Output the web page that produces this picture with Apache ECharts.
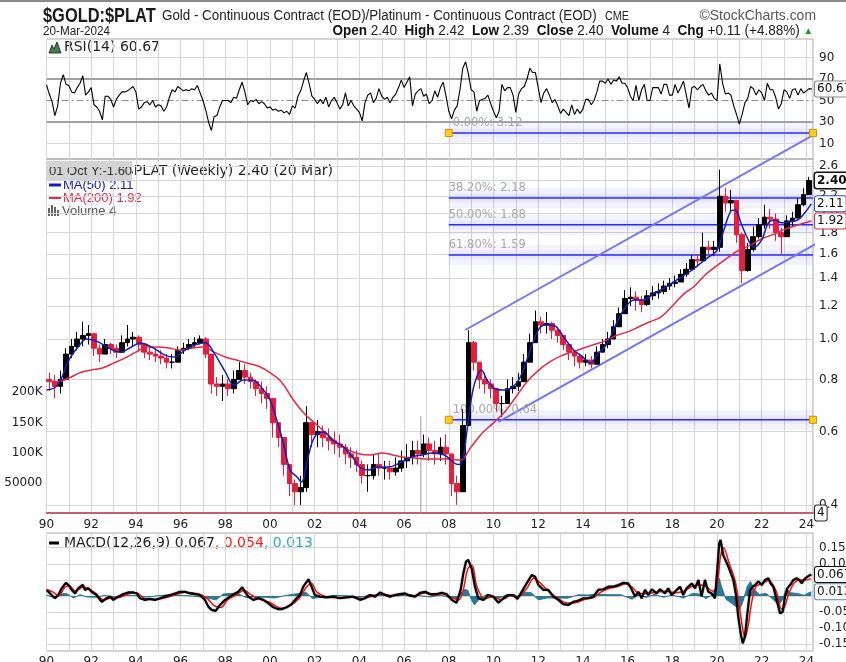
<!DOCTYPE html>
<html><head><meta charset="utf-8">
<script src="https://cdn.jsdelivr.net/npm/echarts@6/dist/echarts.min.js"></script>
<style>html,body{margin:0;padding:0;background:#fff}#c{width:846px;height:662px}</style>
</head><body><div id="c"></div>
<script>
// ---------------- DATA ----------------
// Weekly $GOLD:$PLAT summarised as quarterly bars (centre of quarter)
const priceStart = 1990.125, priceStep = 0.25, firstOpen = 0.80;
const priceClose = [
 0.79,0.77,0.80,0.92, 0.96,1.00,1.02,1.03, 0.95,0.92,0.97,0.95, 0.93,0.98,1.00,1.01,
 0.97,0.93,0.92,0.91, 0.90,0.88,0.88,0.94, 0.95,0.97,0.98,1.00, 0.92,0.78,0.77,0.78,
 0.76,0.80,0.84,0.81, 0.79,0.76,0.74,0.72, 0.63,0.58,0.50,0.45, 0.43,0.44,0.63,0.59,
 0.60,0.58,0.57,0.56, 0.55,0.53,0.52,0.50, 0.47,0.47,0.50,0.49, 0.49,0.48,0.49,0.51,
 0.52,0.54,0.53,0.56, 0.54,0.53,0.55,0.53, 0.45,0.43,0.62,0.98, 0.88,0.80,0.78,0.76,
 0.70,0.70,0.76,0.77, 0.79,0.88,0.98,1.10, 1.08,1.09,1.05,1.02, 0.97,0.93,0.91,0.88,
 0.89,0.87,0.93,0.97, 1.00,1.07,1.15,1.25, 1.26,1.24,1.21,1.27, 1.29,1.30,1.34,1.36,
 1.37,1.43,1.47,1.55, 1.54,1.66,1.64,1.66, 2.20,2.12,2.15,1.78, 1.46,1.64,1.76,1.88,
 1.96,1.94,1.80,1.76, 1.92,1.95,2.10,2.22, 2.40];
const priceLow = [
 0.75,0.72,0.74,0.80, 0.90,0.94,0.96,0.97, 0.91,0.88,0.92,0.92, 0.90,0.93,0.96,0.96,
 0.94,0.90,0.89,0.88, 0.87,0.85,0.85,0.89, 0.92,0.94,0.95,0.97, 0.90,0.74,0.73,0.71,
 0.73,0.74,0.80,0.78, 0.76,0.73,0.70,0.68, 0.58,0.55,0.47,0.42, 0.40,0.40,0.43,0.55,
 0.55,0.55,0.54,0.53, 0.52,0.50,0.49,0.48, 0.45,0.43,0.46,0.47, 0.46,0.46,0.47,0.48,
 0.49,0.50,0.50,0.52, 0.51,0.50,0.51,0.50, 0.42,0.40,0.44,0.66, 0.84,0.76,0.74,0.72,
 0.67,0.65,0.72,0.74, 0.75,0.80,0.90,1.02, 1.03,1.03,1.00,0.98, 0.94,0.89,0.86,0.85,
 0.86,0.85,0.87,0.93, 0.95,1.02,1.09,1.18, 1.20,1.17,1.16,1.20, 1.24,1.25,1.28,1.31,
 1.33,1.37,1.41,1.49, 1.49,1.55,1.58,1.58, 1.62,2.02,2.02,1.70, 1.36,1.45,1.62,1.74,
 1.84,1.84,1.72,1.60, 1.78,1.86,1.95,2.08, 2.22];
const priceHigh = [
 0.83,0.82,0.84,0.95, 1.00,1.04,1.10,1.08, 1.02,0.97,1.00,0.98, 0.97,1.02,1.08,1.04,
 1.02,0.97,0.96,0.95, 0.94,0.92,0.92,0.96, 0.98,1.00,1.01,1.02, 1.01,0.90,0.81,0.82,
 0.80,0.84,0.88,0.87, 0.83,0.80,0.79,0.77, 0.70,0.63,0.57,0.50, 0.46,0.47,0.69,0.63,
 0.64,0.62,0.61,0.60, 0.59,0.56,0.55,0.54, 0.51,0.50,0.53,0.53, 0.51,0.51,0.52,0.54,
 0.56,0.57,0.57,0.59, 0.58,0.57,0.58,0.59, 0.52,0.47,0.68,1.05, 0.99,0.87,0.83,0.80,
 0.76,0.73,0.80,0.81, 0.83,0.92,1.03,1.17, 1.13,1.16,1.10,1.07, 1.02,0.97,0.94,0.92,
 0.92,0.91,0.96,1.00, 1.04,1.11,1.19,1.31, 1.33,1.30,1.27,1.31, 1.34,1.36,1.38,1.40,
 1.42,1.47,1.52,1.59, 1.60,1.80,1.72,1.72, 2.55,2.30,2.28,2.05, 1.80,1.70,1.86,1.95,
 2.10,2.05,2.00,1.85, 1.98,2.02,2.18,2.30, 2.45];

const ma50 = [[1990.0,0.754],[1990.5,0.775],[1991.0,0.89],[1991.5,0.97],[1991.8,1.0],[1992.3,0.985],[1992.8,0.95],
 [1993.3,0.93],[1993.8,0.957],[1994.2,0.978],[1994.7,0.957],[1995.3,0.915],[1995.7,0.905],[1996.2,0.94],[1996.7,0.97],
 [1997.1,0.98],[1997.5,0.925],[1998.0,0.834],[1998.4,0.775],[1998.8,0.797],[1999.2,0.797],[1999.6,0.767],[2000.0,0.714],
 [2000.3,0.639],[2000.6,0.563],[2000.9,0.485],[2001.2,0.467],[2001.4,0.454],[2001.7,0.52],[2002.0,0.582],[2002.4,0.598],
 [2002.8,0.572],[2003.3,0.551],[2003.7,0.52],[2004.0,0.493],[2004.4,0.485],[2004.8,0.493],[2005.3,0.493],[2005.8,0.504],
 [2006.3,0.52],[2006.8,0.527],[2007.3,0.533],[2007.8,0.527],[2008.1,0.512],[2008.4,0.50],[2008.6,0.505],[2008.8,0.595],
 [2009.0,0.714],[2009.2,0.797],[2009.45,0.843],[2009.7,0.80],[2010.0,0.763],[2010.4,0.754],[2010.8,0.763],[2011.2,0.81],
 [2011.6,0.925],[2012.0,1.05],[2012.3,1.08],[2012.5,1.08],[2012.8,1.07],[2013.2,1.0],[2013.6,0.94],[2014.0,0.905],
 [2014.3,0.875],[2014.7,0.925],[2015.1,0.978],[2015.5,1.09],[2015.9,1.19],[2016.3,1.24],[2016.7,1.24],[2017.2,1.29],
 [2017.7,1.33],[2018.2,1.386],[2018.7,1.44],[2019.2,1.51],[2019.6,1.57],[2020.0,1.63],[2020.3,1.82],[2020.6,2.02],
 [2020.8,2.04],[2021.1,1.88],[2021.4,1.73],[2021.65,1.66],[2022.0,1.73],[2022.3,1.90],[2022.6,1.93],[2022.9,1.90],
 [2023.2,1.91],[2023.6,1.93],[2023.9,2.0],[2024.22,2.11]];
const ma200 = [[1990.0,0.797],[1990.5,0.79],[1991.0,0.806],[1991.5,0.83],[1992.0,0.843],[1992.5,0.852],[1993.0,0.875],
 [1993.5,0.9],[1994.0,0.93],[1994.5,0.957],[1995.0,0.957],[1995.5,0.951],[1996.0,0.94],[1996.5,0.951],[1997.0,0.957],
 [1997.5,0.93],[1998.0,0.905],[1998.5,0.89],[1999.0,0.875],[1999.5,0.86],[2000.0,0.83],[2000.5,0.79],[2001.0,0.72],
 [2001.5,0.665],[2002.0,0.629],[2002.5,0.595],[2003.0,0.563],[2003.5,0.542],[2004.0,0.53],[2004.5,0.527],[2005.0,0.533],
 [2005.5,0.527],[2006.0,0.52],[2006.5,0.518],[2007.0,0.515],[2007.5,0.515],[2008.0,0.515],[2008.5,0.512],[2009.0,0.551],
 [2009.5,0.595],[2010.0,0.629],[2010.5,0.668],[2011.0,0.726],[2011.5,0.79],[2012.0,0.84],[2012.5,0.88],[2013.0,0.91],
 [2013.5,0.93],[2014.0,0.95],[2014.5,0.97],[2015.0,0.99],[2015.5,1.02],[2016.0,1.04],[2016.5,1.07],[2017.0,1.10],
 [2017.5,1.13],[2018.0,1.20],[2018.5,1.28],[2019.0,1.34],[2019.5,1.43],[2020.0,1.50],[2020.5,1.57],[2021.0,1.635],
 [2021.5,1.68],[2022.0,1.74],[2022.5,1.78],[2023.0,1.83],[2023.5,1.87],[2024.22,1.92]];

const volume = [[2006.75, 160000]];

// RSI(14), one reading every 1/8 year from 1990.0
const rsiStart = 1990.0, rsiStep = 0.125;
const rsi = [
 64.6,56,49,36,45,66,74,65,64,58, 57,62,66,73,55,58,62,46,44,40, 32,54,54,51,44,51,55,58,58,59,
 61,63,58,42,44,48,49,46,50,44, 46,45,40,44,53,60,58,63,61,59, 60,59,61,60,64,57,50,41,30,22,
 35,36,44,50,50,50,48,53,52,60, 67,58,46,50,49,51,47,49,47,43, 44,41,42,40,41,38.5,40,37,45,43,
 54,59,68,76,66,54,51,47,51,47, 53,44,50,53,48,42,46,57,45,50, 45,42,39,31,48,55,57,48,52,61,
 54,51,53,48,53,56,62,69,62,67, 72,45,56,59,61,54,56,47,50,59, 53,62,67,54,40,33,41,45,60,80,
 86,75,60,58,40,50,51,52,55,47, 40,34,40,65,59,62,62,55,39,56, 61,63,70,80,76,76,62,48,57,61,
 55,48,51,45,38,42,39,36,46,37, 42,38,42,51,51,46,50,58,68,68, 66,70,65,69,68,72,66,66,62,54,
 50,64,50,60,65,50,50,62,62,62, 56,65,65,55,55,65,57,62,68,55, 43,62,63,60,63,65,59,55,57,52,
 50,84,66,56,57,55,45,37,28,37, 48,52,63,61,55,60,57,50,66,60, 60,53,42,47,60,58,52,60,61,55,
 61,57,59,61,60.67];

// MACD(12,26,9)
const macd = [[1990.01,0.019],[1990.16,0.008],[1990.38,-0.007],[1990.53,0.003],[1990.68,0.024],[1990.87,0.041],
 [1990.98,0.034],[1991.13,0.019],[1991.28,0.008],[1991.42,0.024],[1991.62,0.035],[1991.72,0.019],[1991.87,0.024],
 [1992.02,0.013],[1992.24,0.003],[1992.47,-0.018],[1992.69,-0.007],[1992.84,-0.002],[1992.99,-0.012],[1993.21,-0.002],
 [1993.44,0.006],[1993.66,0.011],[1993.89,0.011],[1994.04,0.008],[1994.18,-0.007],[1994.41,-0.012],[1994.63,-0.009],
 [1994.85,-0.012],[1995.08,-0.007],[1995.3,-0.002],[1995.53,0.003],[1995.75,0.008],[1995.97,0.013],[1996.2,0.013],
 [1996.42,0.008],[1996.64,0.006],[1996.87,0.003],[1997.09,-0.012],[1997.24,-0.033],[1997.39,-0.043],[1997.57,-0.046],
 [1997.76,-0.028],[1997.99,-0.012],[1998.21,-0.002],[1998.43,0.008],[1998.58,0.013],[1998.76,0.027],[1998.88,0.013],
 [1999.03,-0.002],[1999.25,-0.012],[1999.48,-0.007],[1999.7,-0.012],[1999.93,-0.023],[2000.15,-0.035],[2000.37,-0.041],
 [2000.52,-0.041],[2000.75,-0.035],[2000.97,-0.025],[2001.19,-0.007],[2001.34,0.003],[2001.49,0.029],[2001.72,0.052],
 [2001.86,0.029],[2002.01,0.003],[2002.24,-0.002],[2002.53,-0.004],[2002.83,-0.002],[2003.13,-0.007],[2003.43,-0.004],
 [2003.73,-0.002],[2004.03,-0.012],[2004.25,-0.007],[2004.47,0.003],[2004.7,-0.002],[2004.92,0.011],[2005.15,0.003],
 [2005.37,-0.002],[2005.59,0.003],[2005.82,0.006],[2006.04,0.008],[2006.26,0.001],[2006.49,-0.002],[2006.71,0.01],
 [2006.94,0.013],[2007.16,0.006],[2007.46,0.006],[2007.68,0.01],[2007.9,0.006],[2008.13,-0.012],[2008.35,-0.021],
 [2008.53,0.019],[2008.65,0.07],[2008.77,0.107],[2008.87,0.112],[2009.02,0.086],[2009.17,0.029],[2009.32,-0.007],
 [2009.55,-0.012],[2009.77,0.003],[2009.99,-0.002],[2010.22,-0.021],[2010.44,-0.007],[2010.66,0.003],[2010.89,0.003],
 [2011.07,-0.009],[2011.26,0.013],[2011.48,0.039],[2011.71,0.065],[2011.86,0.06],[2012.01,0.034],[2012.23,0.019],
 [2012.45,0.019],[2012.68,-0.002],[2012.9,-0.012],[2013.12,-0.025],[2013.35,-0.028],[2013.57,-0.018],[2013.8,-0.014],
 [2014.02,-0.007],[2014.24,-0.007],[2014.47,-0.002],[2014.69,0.019],[2014.91,0.021],[2015.14,0.029],[2015.36,0.029],
 [2015.59,0.034],[2015.81,0.041],[2016.03,0.039],[2016.18,0.021],[2016.33,-0.002],[2016.48,0.013],[2016.63,-0.007],
 [2016.78,0.019],[2016.93,0.003],[2017.08,0.021],[2017.3,0.008],[2017.45,0.021],[2017.67,0.008],[2017.82,0.024],
 [2017.97,0.003],[2018.2,0.019],[2018.35,0.029],[2018.49,0.003],[2018.64,0.024],[2018.87,0.039],[2019.02,0.024],
 [2019.17,0.05],[2019.31,-0.002],[2019.46,0.05],[2019.61,0.013],[2019.76,0.008],[2019.91,-0.007],[2020.01,0.081],
 [2020.1,0.164],[2020.16,0.174],[2020.28,0.127],[2020.51,0.091],[2020.73,0.05],[2020.85,0.003],[2020.95,-0.064],
 [2021.06,-0.116],[2021.15,-0.147],[2021.25,-0.126],[2021.36,-0.054],[2021.48,0.019],[2021.6,0.029],[2021.7,0.034],
 [2021.85,0.045],[2022.0,0.034],[2022.15,0.05],[2022.3,0.055],[2022.4,0.039],[2022.52,0.029],[2022.67,-0.012],
 [2022.82,-0.054],[2022.94,-0.049],[2023.04,-0.002],[2023.15,0.024],[2023.27,0.034],[2023.42,0.05],[2023.56,0.055],
 [2023.68,0.05],[2023.79,0.039],[2023.94,0.055],[2024.09,0.062],[2024.22,0.067]];
const macdSignal = [[1990.0,0.02],[1990.3,0.012],[1990.55,0.0],[1990.8,0.025],[1991.0,0.033],[1991.3,0.015],[1991.65,0.028],
 [1991.9,0.022],[1992.2,0.008],[1992.55,-0.012],[1992.9,-0.006],[1993.3,-0.004],[1993.7,0.008],[1994.0,0.01],[1994.4,-0.008],
 [1994.9,-0.011],[1995.4,-0.004],[1995.8,0.005],[1996.2,0.012],[1996.8,0.006],[1997.2,-0.008],[1997.5,-0.03],[1997.8,-0.036],
 [1998.1,-0.012],[1998.5,0.004],[1998.85,0.018],[1999.1,0.006],[1999.5,-0.008],[2000.0,-0.02],[2000.5,-0.038],[2000.9,-0.03],
 [2001.3,-0.008],[2001.6,0.025],[2001.85,0.04],[2002.1,0.012],[2002.5,-0.002],[2003.0,-0.005],[2003.6,-0.003],[2004.1,-0.008],
 [2004.5,-0.002],[2005.0,0.006],[2005.5,0.001],[2006.0,0.006],[2006.5,0.0],[2006.9,0.01],[2007.3,0.002],[2007.7,0.007],
 [2008.1,-0.005],[2008.45,-0.012],[2008.65,0.02],[2008.85,0.085],[2009.05,0.095],[2009.25,0.03],[2009.6,-0.008],[2010.0,-0.002],
 [2010.35,-0.012],[2010.8,0.002],[2011.1,-0.002],[2011.5,0.025],[2011.8,0.055],[2012.1,0.04],[2012.5,0.012],[2012.9,-0.008],
 [2013.3,-0.022],[2013.7,-0.02],[2014.1,-0.01],[2014.5,-0.004],[2014.8,0.012],[2015.2,0.024],[2015.6,0.03],[2015.9,0.038],
 [2016.2,0.028],[2016.5,0.008],[2016.9,0.008],[2017.3,0.012],[2017.7,0.015],[2018.1,0.01],[2018.5,0.015],[2018.9,0.03],
 [2019.2,0.035],[2019.5,0.03],[2019.8,0.015],[2020.0,0.03],[2020.15,0.12],[2020.3,0.15],[2020.55,0.10],[2020.8,0.05],
 [2020.98,-0.02],[2021.12,-0.09],[2021.25,-0.13],[2021.4,-0.09],[2021.55,-0.02],[2021.75,0.03],[2022.0,0.038],[2022.3,0.048],
 [2022.5,0.035],[2022.7,0.005],[2022.88,-0.04],[2023.02,-0.035],[2023.2,0.005],[2023.45,0.04],[2023.7,0.05],[2023.95,0.05],
 [2024.22,0.054]];
const macdHist = [[1990.0,0.003],[1990.3,-0.004],[1990.6,0.006],[1990.9,0.008],[1991.2,-0.006],[1991.5,0.004],[1991.8,-0.003],
 [1992.2,-0.004],[1992.6,0.002],[1993.0,-0.003],[1993.5,0.003],[1994.0,0.001],[1994.5,-0.003],[1995.0,0.001],[1995.5,0.004],
 [1996.0,0.002],[1996.5,0.0],[1997.0,-0.004],[1997.3,-0.008],[1997.6,-0.012],[1997.9,0.006],[1998.2,0.008],[1998.6,0.006],
 [1998.9,-0.004],[1999.3,-0.003],[1999.8,-0.004],[2000.2,-0.006],[2000.6,0.0],[2000.9,0.004],[2001.3,0.008],[2001.6,0.012],
 [2001.9,-0.008],[2002.3,-0.003],[2003.0,0.002],[2003.6,0.0],[2004.0,-0.004],[2004.5,0.003],[2005.0,0.003],[2005.6,0.0],
 [2006.2,0.003],[2006.7,0.001],[2007.2,-0.003],[2007.6,0.003],[2008.1,-0.006],[2008.4,-0.008],[2008.55,0.01],[2008.7,0.02],
 [2008.85,0.018],[2009.0,-0.01],[2009.15,-0.028],[2009.35,-0.01],[2009.7,0.005],[2010.2,-0.008],[2010.6,0.004],[2011.0,-0.004],
 [2011.4,0.012],[2011.7,0.01],[2012.0,-0.012],[2012.4,-0.006],[2012.9,-0.006],[2013.3,-0.007],[2013.8,0.004],[2014.2,0.003],
 [2014.7,0.006],[2015.2,0.004],[2015.7,0.004],[2016.2,-0.01],[2016.5,0.006],[2016.8,-0.005],[2017.2,0.005],[2017.6,-0.004],
 [2018.0,0.003],[2018.5,-0.006],[2018.9,0.008],[2019.2,0.006],[2019.5,-0.008],[2019.8,0.004],[2020.0,0.03],[2020.1,0.055],
 [2020.2,0.03],[2020.4,-0.01],[2020.6,-0.02],[2020.8,-0.03],[2021.0,-0.043],[2021.15,-0.02],[2021.35,0.03],[2021.5,0.045],
 [2021.65,0.02],[2021.9,0.005],[2022.2,0.008],[2022.5,-0.01],[2022.75,-0.028],[2022.95,-0.01],[2023.1,0.024],[2023.3,0.01],
 [2023.6,0.008],[2023.9,0.002],[2024.1,0.01],[2024.22,0.013]];

// Fibonacci retracement and trend channel annotations
const fibNames  = ['0.00%', '38.20%', '50.00%', '61.80%', '100.00%'];
const fibLevels = [3.12, 2.18, 1.88, 1.59, 0.64];
const fibMarked = [true, false, false, false, true];
const fibStart = 2008.0, fibEnd = 2024.295;
const channelUpper = [[2008.73, 1.051], [2026.0, 3.47]];
const channelLower = [[2010.22, 0.633], [2026.0, 1.887]];

// Axis ticks
const priceTicks = [0.4,0.6,0.8,1.0,1.2,1.4,1.6,1.8,2.0,2.2,2.4,2.6];
const rsiTicks = [10,30,50,70,90];
const volTicks = [50000,100000,150000,200000];
const macdTicks = [-0.15,-0.10,-0.05,0,0.05,0.10,0.15];

// Last values for tags
const last = {price:2.40, ma50:2.11, ma200:1.92, vol:4, rsi:60.67, macd:0.067, signal:0.054, hist:0.013};

// ---------------- CHART ----------------
const FONT = '"DejaVu Sans", Verdana, sans-serif';
const ARIAL = '"Liberation Sans", Arial, sans-serif';
const X0 = 1990, X1 = 2024.295;
const GL = 46.5, GR = 33;

const candles = priceClose.map((c, i) => [priceStart + i * priceStep, i ? priceClose[i - 1] : firstOpen, c, priceLow[i], priceHigh[i]]);
const rsiData = rsi.map((v, i) => [rsiStart + i * rsiStep, v]);
const rsiBase = rsi.map((v, i) => [rsiStart + i * rsiStep, 70]);
const rsiOver = rsi.map((v, i) => [rsiStart + i * rsiStep, Math.max(0, v - 70)]);

function xAxisFor(gi, showLabels, margin) {
  return {
    type: 'value', gridIndex: gi, min: X0, max: X1, interval: 1,
    axisLine: {show: gi === 1, onZero: false, lineStyle: {color: '#c2606e', width: 2}},
    axisTick: {show: false},
    axisLabel: {show: showLabels, margin: margin || 6, color: '#222', fontFamily: FONT, fontSize: 12,
      formatter: v => { const r = Math.round(v); if (Math.abs(v - r) > 1e-6 || r % 2) return ''; return String(r % 100).padStart(2, '0'); }},
    splitLine: {show: true, lineStyle: {color: '#d6d6d6', width: 1}}
  };
}
function tag(coord, text, border, bold, bw) {
  return {
    coord: coord, symbol: 'rect', symbolSize: 0,
    label: {show: true, position: 'right', distance: 2, formatter: text, backgroundColor: '#fff',
      borderColor: border, borderWidth: bw || 1, borderRadius: 2, padding: [2, 2, 1, 2],
      color: '#111', fontFamily: FONT, fontSize: 12, fontWeight: bold ? 'bold' : 'normal'}
  };
}
const hline = (v, color, width, type) => ({yAxis: v, lineStyle: {color: color, width: width, type: type || 'solid'}});

const series = [];
// RSI panel
series.push({type: 'line', xAxisIndex: 0, yAxisIndex: 0, data: rsiBase, stack: 'ob', symbol: 'none', silent: true,
  lineStyle: {opacity: 0}, z: 1, animation: false});
series.push({type: 'line', xAxisIndex: 0, yAxisIndex: 0, data: rsiOver, stack: 'ob', symbol: 'none', silent: true,
  lineStyle: {opacity: 0}, areaStyle: {color: '#3f7f4a', opacity: 0.9}, z: 1, animation: false});
series.push({type: 'line', xAxisIndex: 0, yAxisIndex: 0, data: rsiData, symbol: 'none', silent: true,
  lineStyle: {color: '#000', width: 1.1}, z: 3, animation: false,
  markLine: {silent: true, symbol: ['none', 'none'], label: {show: false}, z: 1, animation: false,
    data: [hline(10, '#d6d6d6', 1), hline(90, '#d6d6d6', 1), hline(30, '#a2a2a2', 2), hline(70, '#a2a2a2', 2),
           hline(50, '#8c8c8c', 1, [7, 3, 2, 3])]},
  markPoint: {z: 10, animation: false, data: [tag([X1, last.rsi], last.rsi.toFixed(2), '#888')]}});

// Price panel
series.push({type: 'line', xAxisIndex: 1, yAxisIndex: 1, data: ma200, symbol: 'none', smooth: 0.4, silent: true,
  lineStyle: {color: '#e02a46', width: 1.5}, z: 5, animation: false,
  markLine: {silent: true, symbol: ['none', 'none'], label: {show: false}, z: 1, animation: false,
    data: priceTicks.map(v => hline(v, '#d6d6d6', 1))},
  markPoint: {z: 11, animation: false, data: [tag([X1, last.ma200], last.ma200.toFixed(2), '#e02a46')]}});
fibLevels.forEach((lv, i) => {
  series.push({type: 'line', xAxisIndex: 1, yAxisIndex: 1, clip: false, silent: true, symbol: 'none', z: 2, animation: false,
    lineStyle: {color: 'rgba(90,90,255,0.07)', width: 20}, data: [[fibStart, lv], [fibEnd, lv]]});
  series.push({type: 'line', xAxisIndex: 1, yAxisIndex: 1, clip: false, silent: true, symbol: 'none', z: 2, animation: false,
    lineStyle: {color: 'rgba(90,90,255,0.06)', width: 9}, data: [[fibStart, lv], [fibEnd, lv]]});
  series.push({type: 'line', xAxisIndex: 1, yAxisIndex: 1, clip: false, silent: true, z: 3, animation: false,
    symbol: fibMarked[i] ? 'rect' : 'circle', symbolSize: fibMarked[i] ? 7 : 0,
    itemStyle: {color: '#ffd21a', borderColor: '#e08a00', borderWidth: 1},
    lineStyle: {color: '#2a2aff', width: 1.6},
    data: [{value: [fibStart, lv], label: {show: true, position: 'right', distance: 2, offset: [-2, -10],
              formatter: fibNames[i] + ': ' + lv.toFixed(2), color: '#a8a8a8', fontFamily: FONT, fontSize: 11.5}},
           {value: [fibEnd, lv]}]});
});
[channelUpper, channelLower].forEach(ch => series.push({type: 'line', xAxisIndex: 1, yAxisIndex: 1, clip: false, silent: true,
  symbol: 'none', z: 3, animation: false, lineStyle: {color: '#7474f4', width: 2}, data: ch}));
series.push({type: 'bar', xAxisIndex: 1, yAxisIndex: 2, data: volume, barWidth: 1, silent: true, z: 2, animation: false,
  itemStyle: {color: '#9a9a9a'},
  markPoint: {z: 11, animation: false, data: [tag([X1, last.vol], String(last.vol), '#222')]}});
series.push({type: 'candlestick', xAxisIndex: 1, yAxisIndex: 1, data: candles, encode: {x: 0, y: [1, 2, 3, 4]},
  barWidth: 5.2, silent: true, z: 4, animation: false,
  itemStyle: {color: '#000', color0: '#e41e3c', borderColor: '#000', borderColor0: '#e41e3c', borderWidth: 1},
  markPoint: {z: 12, animation: false, data: [tag([X1, last.price], last.price.toFixed(2), '#111', true, 1.5)]}});
series.push({type: 'line', xAxisIndex: 1, yAxisIndex: 1, data: ma50, symbol: 'none', smooth: 0.4, silent: true,
  lineStyle: {color: '#1420b4', width: 1.5}, z: 6, animation: false,
  markPoint: {z: 11, animation: false, data: [tag([X1, last.ma50], last.ma50.toFixed(2), '#3050b0')]}});

// MACD panel
series.push({type: 'line', xAxisIndex: 2, yAxisIndex: 3, data: macdHist, symbol: 'none', silent: true, z: 2, animation: false,
  lineStyle: {color: '#2c7896', width: 1}, areaStyle: {color: '#2c7896', origin: 0, opacity: 1},
  markLine: {silent: true, symbol: ['none', 'none'], label: {show: false}, z: 1, animation: false,
    data: macdTicks.map(v => hline(v, '#d6d6d6', 1))},
  markPoint: {z: 11, animation: false, data: [tag([X1, last.hist], last.hist.toFixed(3), '#5a82b4')]}});
series.push({type: 'line', xAxisIndex: 2, yAxisIndex: 3, data: macdSignal, symbol: 'none', silent: true, z: 3, animation: false,
  smooth: 0.3, lineStyle: {color: '#ff1010', width: 1.5}});
series.push({type: 'line', xAxisIndex: 2, yAxisIndex: 3, data: macd, symbol: 'none', silent: true, z: 4, animation: false,
  lineStyle: {color: '#000', width: 2.2, shadowColor: 'rgba(0,0,0,0.35)', shadowBlur: 2},
  markPoint: {z: 12, animation: false, data: [tag([X1, last.macd], last.macd.toFixed(3), '#111')]}});

const gridBorder = {show: true, borderColor: '#a8a8a8', borderWidth: 1, backgroundColor: 'transparent',
  containLabel: false, outerBoundsMode: 'none'};
const rightLabel = {color: '#222', fontFamily: FONT, fontSize: 12, margin: 6};

const option = {
  backgroundColor: '#fff',
  animation: false,
  grid: [
    Object.assign({left: GL, right: GR, top: 39, height: 120}, gridBorder),
    Object.assign({left: GL, right: GR, top: 159, height: 354}, gridBorder),
    Object.assign({left: GL, right: GR, top: 533, height: 118}, gridBorder)
  ],
  xAxis: [xAxisFor(0, false), xAxisFor(1, true, 6), xAxisFor(2, true, 5)],
  yAxis: [
    {type: 'value', gridIndex: 0, position: 'right', min: -4.42, max: 107.2, splitLine: {show: false},
     axisLine: {show: false}, axisTick: {show: false},
     axisLabel: Object.assign({customValues: rsiTicks, formatter: v => String(v)}, rightLabel)},
    {type: 'log', logBase: 10, gridIndex: 1, position: 'right', min: 0.3824, max: 2.7033, splitLine: {show: false},
     axisLine: {show: false}, axisTick: {show: false},
     axisLabel: Object.assign({customValues: priceTicks, formatter: v => Number(v).toFixed(1)}, rightLabel)},
    {type: 'value', gridIndex: 1, position: 'left', min: 0, max: 586000, splitLine: {show: false},
     axisLine: {show: false}, axisTick: {show: false},
     axisLabel: {customValues: volTicks, margin: 4, color: '#222', fontFamily: FONT, fontSize: 12,
       formatter: v => v >= 100000 ? (v / 1000) + 'K' : String(v)}},
    {type: 'value', gridIndex: 2, position: 'right', min: -0.1708, max: 0.1957, splitLine: {show: false},
     axisLine: {show: false}, axisTick: {show: false},
     axisLabel: Object.assign({customValues: macdTicks, formatter: v => Number(v).toFixed(2)}, rightLabel)}
  ],
  series: series,
  graphic: [
    {type: 'rect', shape: {x: 0, y: 0, width: 846, height: 2}, style: {fill: '#8a8a8a'}, silent: true},
    {type: 'text', x: 43, y: 16, scaleX: 0.82, style: {text: '$GOLD:$PLAT', font: 'bold 20px ' + ARIAL, fill: '#1a1a1a', verticalAlign: 'middle'}},
    {type: 'text', x: 162, y: 16, scaleX: 0.955, style: {text: 'Gold - Continuous Contract (EOD)/Platinum - Continuous Contract (EOD)',
      font: '14px ' + ARIAL, fill: '#222', verticalAlign: 'middle'}},
    {type: 'text', x: 605, y: 17, scaleX: 0.9, style: {text: 'CME', font: '12px ' + ARIAL, fill: '#222', verticalAlign: 'middle'}},
    {type: 'text', x: 816, y: 16, scaleX: 0.93, style: {text: '\u00A9StockCharts.com', font: '15px ' + ARIAL, fill: '#555', verticalAlign: 'middle', align: 'right'}},
    {type: 'text', x: 43, y: 31, scaleX: 0.9, style: {text: '20-Mar-2024', font: '13px ' + ARIAL, fill: '#222', verticalAlign: 'middle'}},
    {type: 'text', x: 813, y: 31, scaleX: 0.965, style: {
      text: '{b|Open} 2.40  {b|High} 2.42  {b|Low} 2.39  {b|Close} 2.40  {b|Volume} 4  {b|Chg} +0.11 (+4.88%) {g|\u25B2}',
      font: '14px ' + ARIAL, fill: '#222', verticalAlign: 'middle', align: 'right',
      rich: {b: {fontWeight: 'bold', fontSize: 14, fontFamily: ARIAL, fill: '#111'}, g: {fill: '#1d9a2a', fontSize: 10}}}},
    // RSI legend
    {type: 'polygon', shape: {points: [[49, 53], [52, 45], [54, 49], [57, 42], [61, 53]]}, style: {fill: '#3f7f4a', stroke: '#1a1a1a', lineWidth: 0.8}},
    {type: 'text', x: 64, y: 47, style: {text: 'RSI(14) 60.67', font: '14px ' + FONT, fill: '#222', verticalAlign: 'middle'}},
    // Price legend
    {type: 'text', x: 333, y: 171, style: {text: '$GOLD:$PLAT (Weekly) 2.40 (20 Mar)', font: '14px ' + FONT, fill: '#222', verticalAlign: 'middle', align: 'right'}},
    {type: 'rect', shape: {x: 47, y: 161, width: 85, height: 20}, style: {fill: '#d3d3d3'}},
    {type: 'text', x: 49, y: 171, style: {text: '01 Oct Y:-1.60', font: '13px ' + ARIAL, fill: '#333', verticalAlign: 'middle'}},
    {type: 'line', shape: {x1: 49, y1: 185, x2: 61, y2: 185}, style: {stroke: '#1420b4', lineWidth: 3}},
    {type: 'text', x: 63, y: 185, style: {text: 'MA(50) 2.11', font: '13px ' + ARIAL, fill: '#1420b4', verticalAlign: 'middle'}},
    {type: 'line', shape: {x1: 49, y1: 198, x2: 61, y2: 198}, style: {stroke: '#e02a46', lineWidth: 2}},
    {type: 'text', x: 63, y: 198, style: {text: 'MA(200) 1.92', font: '13px ' + ARIAL, fill: '#e02a46', verticalAlign: 'middle'}},
    {type: 'rect', shape: {x: 48, y: 208, width: 2, height: 8}, style: {fill: '#666'}},
    {type: 'rect', shape: {x: 51, y: 205, width: 2, height: 11}, style: {fill: '#666'}},
    {type: 'rect', shape: {x: 54, y: 207, width: 2, height: 9}, style: {fill: '#666'}},
    {type: 'rect', shape: {x: 57, y: 210, width: 2, height: 6}, style: {fill: '#666'}},
    {type: 'text', x: 62, y: 211, style: {text: 'Volume 4', font: '13px ' + ARIAL, fill: '#555', verticalAlign: 'middle'}},
    // MACD legend
    {type: 'line', shape: {x1: 49, y1: 543, x2: 59, y2: 543}, style: {stroke: '#000', lineWidth: 3}},
    {type: 'text', x: 64, y: 543, style: {
      text: 'MACD(12,26,9) 0.067{r|, 0.054}{t|, 0.013}', font: '14px ' + FONT, fill: '#222', verticalAlign: 'middle',
      rich: {r: {fill: '#ff1a1a', fontSize: 14, fontFamily: FONT}, t: {fill: '#3aa0d0', fontSize: 14, fontFamily: FONT}}}}
  ]
};
const chart = echarts.init(document.getElementById('c'));
chart.setOption(option);
</script></body></html>
